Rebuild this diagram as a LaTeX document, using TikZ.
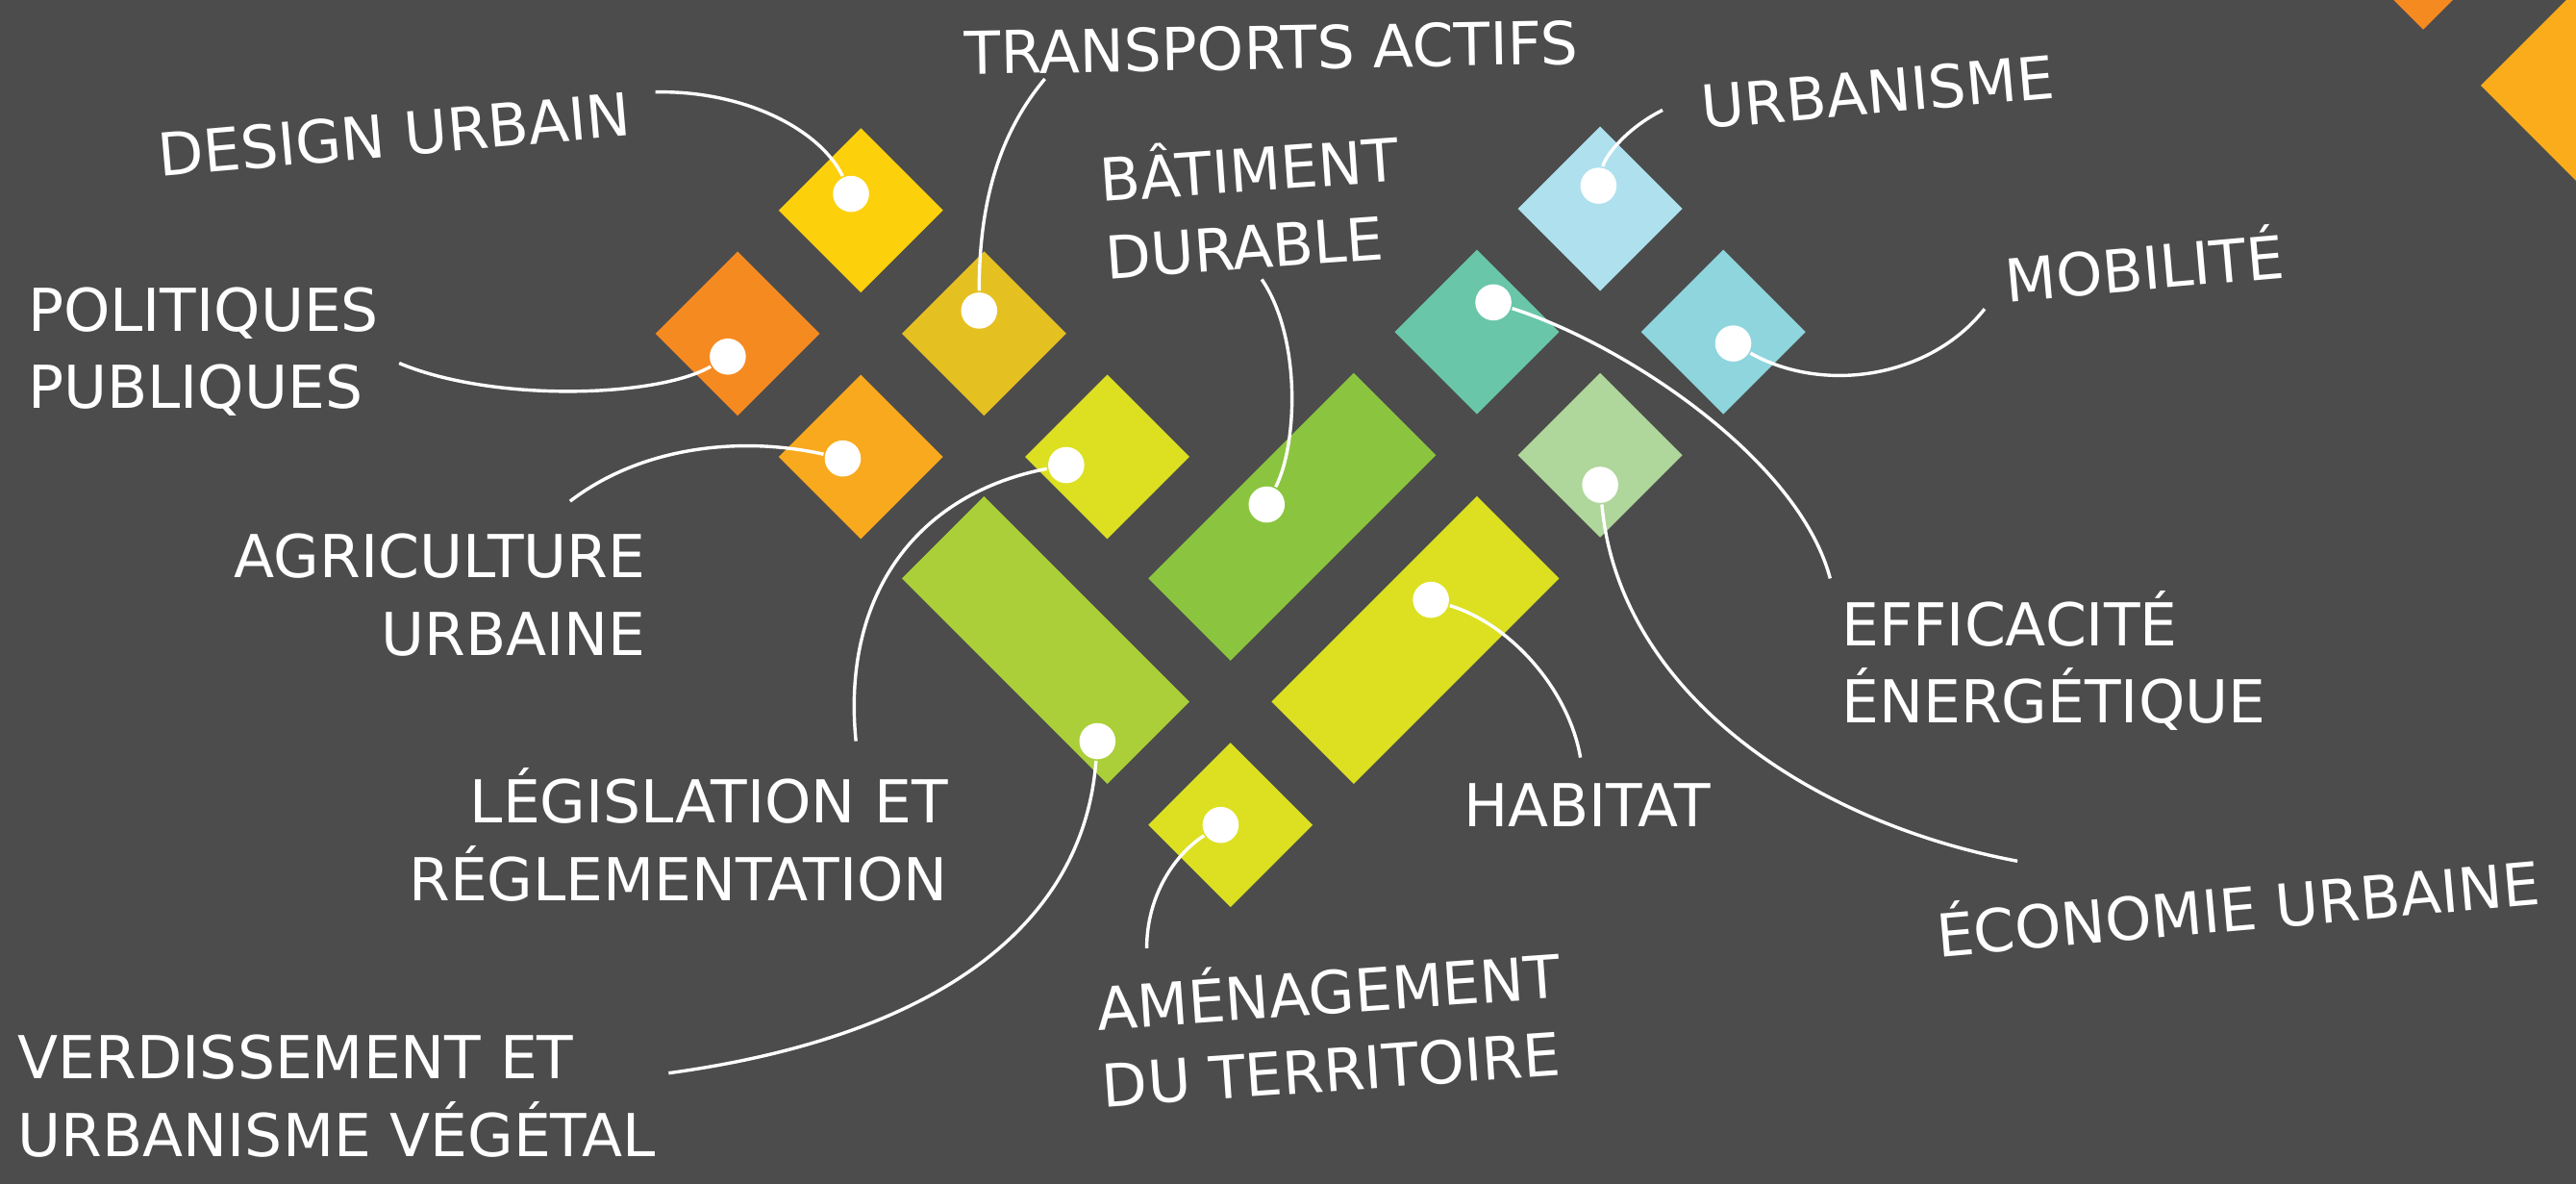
\documentclass[tikz,border=0pt]{standalone}
\usepackage{fontspec}
\setmainfont{DejaVu Sans}

\definecolor{bgGrey}{RGB}{76,76,76}
\definecolor{cDesign}{RGB}{253,208,12}
\definecolor{cPolitiques}{RGB}{245,138,33}
\definecolor{cTransports}{RGB}{229,192,33}
\definecolor{cAgriculture}{RGB}{248,169,29}
\definecolor{cLime}{RGB}{220,224,33}
\definecolor{cVerdissement}{RGB}{170,207,56}
\definecolor{cBatiment}{RGB}{139,197,63}
\definecolor{cUrbanisme}{RGB}{174,224,238}
\definecolor{cEfficacite}{RGB}{105,198,168}
\definecolor{cMobilite}{RGB}{142,213,222}
\definecolor{cEconomie}{RGB}{175,214,155}
\definecolor{cCorner}{RGB}{250,172,26}

\tikzset{every picture/.style={line width=2pt}}
\tikzset{
  lbl/.style={text=white, inner sep=0pt, font=\fontsize{36}{47}\selectfont},
  dot/.style={circle, fill=white, minimum size=22pt, inner sep=0pt},
  wire/.style={draw=white, line width=2pt},
}

\begin{document}
\begin{tikzpicture}[x=1pt,y=1pt,yscale=-1,xscale=1]
\useasboundingbox (0,0) rectangle (1568,720);
\clip (0,0) rectangle (1568,720);
\fill[bgGrey] (-5,-5) rectangle (1573,725);

%Corner Diamonds
\fill[cPolitiques] (1475,-38) -- (1503,-10) -- (1475,18) -- (1447,-10) -- cycle;
\fill[cCorner] (1580,-18) -- (1650,52) -- (1580,122) -- (1510,52) -- cycle;

%Diamonds, left
\fill[cDesign] (524,78) -- (574,128) -- (524,178) -- (474,128) -- cycle;
\fill[cPolitiques] (449,153) -- (499,203) -- (449,253) -- (399,203) -- cycle;
\fill[cTransports] (599,153) -- (649,203) -- (599,253) -- (549,203) -- cycle;
\fill[cAgriculture] (524,228) -- (574,278) -- (524,328) -- (474,278) -- cycle;
\fill[cLime] (674,228) -- (724,278) -- (674,328) -- (624,278) -- cycle;

%Rectangles, centre
\fill[cVerdissement] (599,302) -- (724,427) -- (674,477) -- (549,352) -- cycle;
\fill[cBatiment] (699,352) -- (824,227) -- (874,277) -- (749,402) -- cycle;
\fill[cLime] (774,427) -- (899,302) -- (949,352) -- (824,477) -- cycle;
\fill[cLime] (749,452) -- (799,502) -- (749,552) -- (699,502) -- cycle;

%Diamonds, right
\fill[cUrbanisme] (974,77) -- (1024,127) -- (974,177) -- (924,127) -- cycle;
\fill[cEfficacite] (899,152) -- (949,202) -- (899,252) -- (849,202) -- cycle;
\fill[cMobilite] (1049,152) -- (1099,202) -- (1049,252) -- (999,202) -- cycle;
\fill[cEconomie] (974,227) -- (1024,277) -- (974,327) -- (924,277) -- cycle;

%Dots
\node[dot] (dDesign) at (518,118) {};
\node[dot] (dPolitiques) at (443,217) {};
\node[dot] (dTransports) at (596,189) {};
\node[dot] (dAgriculture) at (513,279) {};
\node[dot] (dLegislation) at (649,283) {};
\node[dot] (dVerdissement) at (668,451) {};
\node[dot] (dBatiment) at (771,307) {};
\node[dot] (dHabitat) at (871,365) {};
\node[dot] (dAmenagement) at (743,502) {};
\node[dot] (dUrbanisme) at (973,113) {};
\node[dot] (dEfficacite) at (909,184) {};
\node[dot] (dMobilite) at (1055,209) {};
\node[dot] (dEconomie) at (974,295) {};

% Text Node
\node[lbl, rotate=5] (tDesign) at (240,82) {DESIGN URBAIN};
% Text Node
\node[lbl, anchor=west, align=left] (tPolitiques) at (16,214) {POLITIQUES\\PUBLIQUES};
% Text Node
\node[lbl, rotate=1] (tTransports) at (774,29) {TRANSPORTS ACTIFS};
% Text Node
\node[lbl, anchor=east, align=right] (tAgriculture) at (394,362) {AGRICULTURE\\URBAINE};
% Text Node
\node[lbl, anchor=west, align=left, rotate=4] (tBatiment) at (670,130) {BÂTIMENT\\DURABLE};
% Text Node
\node[lbl, anchor=east, align=right] (tLegislation) at (578,508) {LÉGISLATION ET\\RÉGLEMENTATION};
% Text Node
\node[lbl, anchor=west, align=left] (tVerdissement) at (10,667) {VERDISSEMENT ET\\URBANISME VÉGÉTAL};
% Text Node
\node[lbl] (tHabitat) at (966,490) {HABITAT};
% Text Node
\node[lbl, anchor=west, align=left, rotate=4] (tAmenagement) at (668,634) {AMÉNAGEMENT\\DU TERRITOIRE};
% Text Node
\node[lbl, rotate=5] (tUrbanisme) at (1143,56) {URBANISME};
% Text Node
\node[lbl, rotate=5] (tMobilite) at (1305,160) {MOBILITÉ};
% Text Node
\node[lbl, anchor=west, align=left] (tEfficacite) at (1120,402) {EFFICACITÉ\\ÉNERGÉTIQUE};
% Text Node
\node[lbl, rotate=5] (tEconomie) at (1362,550) {ÉCONOMIE URBAINE};

%Wire ends
\coordinate (sDesign) at (399,56);
\coordinate (sPolitiques) at (243,221);
\coordinate (sTransports) at (636,48);
\coordinate (sAgriculture) at (347,305);
\coordinate (sLegislation) at (521,451);
\coordinate (sVerdissement) at (407,653);
\coordinate (sBatiment) at (768,170);
\coordinate (sHabitat) at (962,461);
\coordinate (sAmenagement) at (698,577);
\coordinate (sUrbanisme) at (1012,67);
\coordinate (sMobilite) at (1208,188);
\coordinate (sEfficacite) at (1114,352);
\coordinate (sEconomie) at (1228,524);

%Curve Lines
\draw[wire] (sDesign) .. controls (455,55) and (500,80) .. (dDesign);
\draw[wire] (sPolitiques) .. controls (300,245) and (400,242) .. (dPolitiques);
\draw[wire] (sTransports) .. controls (605,85) and (596,130) .. (dTransports);
\draw[wire] (sAgriculture) .. controls (390,272) and (450,265) .. (dAgriculture);
\draw[wire] (sLegislation) .. controls (512,360) and (560,300) .. (dLegislation);
\draw[wire] (sVerdissement) .. controls (575,630) and (660,560) .. (dVerdissement);
\draw[wire] (sBatiment) .. controls (792,205) and (790,270) .. (dBatiment);
\draw[wire] (sHabitat) .. controls (955,420) and (920,380) .. (dHabitat);
\draw[wire] (sAmenagement) .. controls (698,545) and (715,520) .. (dAmenagement);
\draw[wire] (sUrbanisme) .. controls (990,78) and (977,95) .. (dUrbanisme);
\draw[wire] (sMobilite) .. controls (1175,230) and (1110,240) .. (dMobilite);
\draw[wire] (dEfficacite) .. controls (990,210) and (1095,280) .. (sEfficacite);
\draw[wire] (dEconomie) .. controls (985,420) and (1100,500) .. (sEconomie);

\end{tikzpicture}
\end{document}
